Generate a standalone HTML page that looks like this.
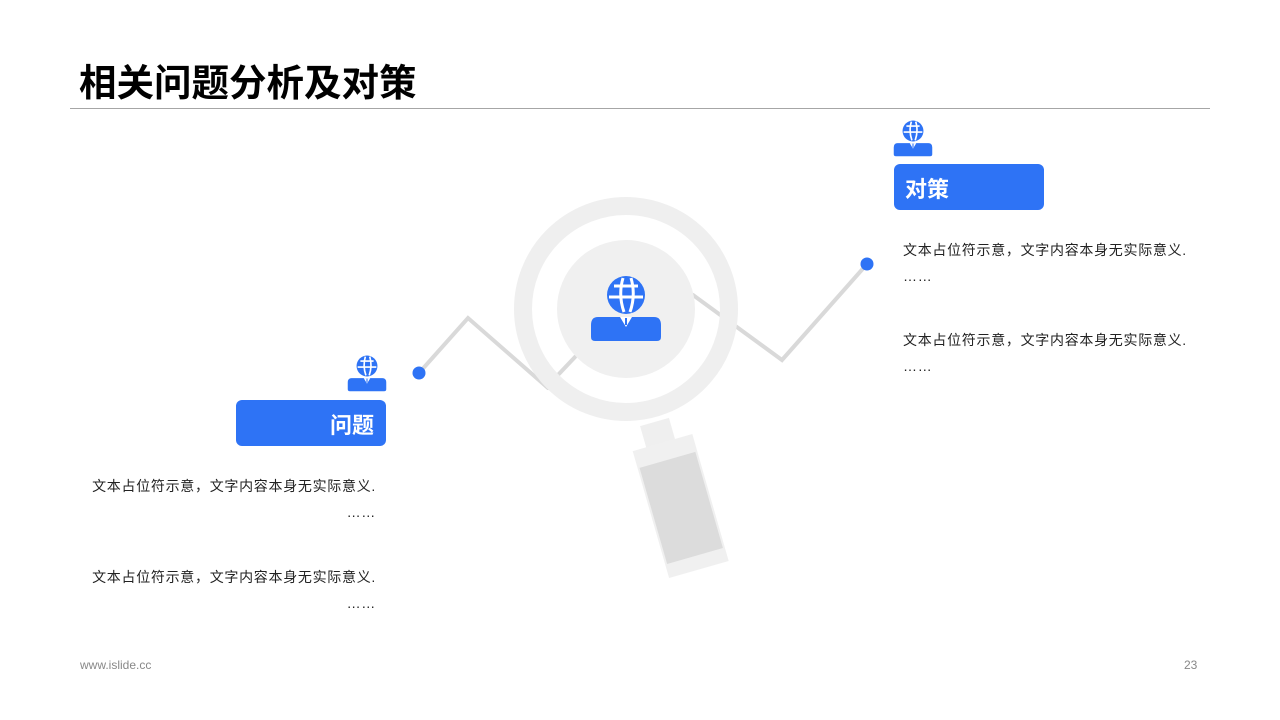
<!DOCTYPE html>
<html><head><meta charset="utf-8"><style>
body{margin:0;width:1280px;height:720px;background:#fff;position:relative;overflow:hidden;font-family:"Liberation Sans","Noto Sans CJK SC",sans-serif}
.t{position:absolute;font-size:14px;color:#222;line-height:26px;letter-spacing:0.7px}
</style></head><body>
<div style="position:absolute;left:79px;top:60px;font-size:37.5px;font-weight:bold;color:#000;line-height:46px">相关问题分析及对策</div>
<div style="position:absolute;left:70px;top:108px;width:1140px;height:1px;background:#a6a6a6"></div>
<svg width="1280" height="720" style="position:absolute;left:0;top:0">
<defs>
<g id="ic">
<circle cx="0" cy="0" r="19" fill="#2e73f5"/>
<path d="M-12,-9 L12,-9 M-17,2 L17,2 M-3,-17 Q-8,0 -2,17 M5,-17 Q10,0 4,17" stroke="#fff" stroke-width="3" fill="none"/>
<path d="M-28,22 L28,22 Q35,22 35,30 L35,42 Q35,46 31,46 L-31,46 Q-35,46 -35,42 L-35,30 Q-35,22 -28,22 Z" fill="#2e73f5"/>
<path d="M-6,22 L0,32 L6,22 Z" fill="#fff"/>
<rect x="-1" y="23" width="2" height="7" fill="#2e73f5"/>
</g>
</defs>
<g stroke="#d9d9d9" stroke-width="4" fill="none" stroke-linecap="round">
<polyline points="419,373 468,318 548,388"/>
<line x1="557" y1="376" x2="575" y2="357"/>
<polyline points="693,295 782,360 867,264"/>
</g>
<circle cx="419" cy="373" r="6.5" fill="#2e73f5"/>
<circle cx="867" cy="264" r="6.5" fill="#2e73f5"/>
<g transform="rotate(-16 680 500)">
<rect x="662" y="418" width="30" height="30" fill="#efefef"/>
<rect x="648" y="440" width="62" height="132" fill="#f0f0f0"/>
<rect x="650" y="458" width="58" height="100" fill="#dcdcdc"/>
</g>
<circle cx="626" cy="309" r="103" fill="none" stroke="#efefef" stroke-width="18"/>
<circle cx="626" cy="309" r="69" fill="#f0f0f0"/>
<use href="#ic" transform="translate(626,295)"/>
<use href="#ic" transform="translate(913,131) scale(0.55)"/>
<use href="#ic" transform="translate(367,366) scale(0.55)"/>
<rect x="894" y="164" width="150" height="46" rx="6" fill="#2e73f5"/>
<rect x="236" y="400" width="150" height="46" rx="6" fill="#2e73f5"/>
<text x="905" y="197" font-size="22" font-weight="bold" fill="#fff" font-family="Liberation Sans,Noto Sans CJK SC,sans-serif">对策</text>
<text x="374" y="433" font-size="22" font-weight="bold" fill="#fff" text-anchor="end" font-family="Liberation Sans,Noto Sans CJK SC,sans-serif">问题</text>
</svg>
<div class="t" style="left:903px;top:237px">文本占位符示意，文字内容本身无实际意义.<br>……</div>
<div class="t" style="left:903px;top:327px">文本占位符示意，文字内容本身无实际意义.<br>……</div>
<div class="t" style="left:60px;top:473px;width:316px;text-align:right">文本占位符示意，文字内容本身无实际意义.<br>……</div>
<div class="t" style="left:60px;top:564px;width:316px;text-align:right">文本占位符示意，文字内容本身无实际意义.<br>……</div>
<div style="position:absolute;left:80px;top:658px;font-size:12px;color:#888">www.islide.cc</div>
<div style="position:absolute;left:1184px;top:658px;font-size:12px;color:#888">23</div>
</body></html>
